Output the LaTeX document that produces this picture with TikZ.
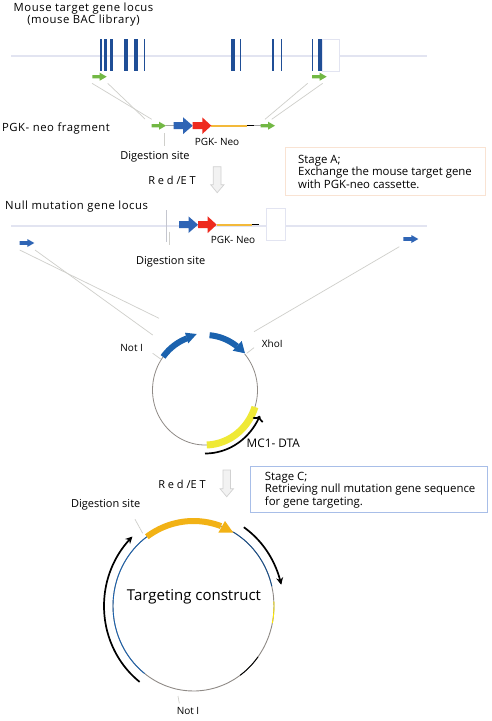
\documentclass[tikz,border=0pt]{standalone}
\usepackage{fontspec}
\setmainfont{Open Sans}
\newfontfamily\spaced[LetterSpace=5]{Open Sans}
\definecolor{exon}{HTML}{1F4E96}
\definecolor{locus}{HTML}{E2E4F1}
\definecolor{guide}{HTML}{CFCFCB}
\definecolor{gfp}{HTML}{72B844}
\definecolor{pgk}{HTML}{2F65B5}
\definecolor{neo}{HTML}{EE2A1E}
\definecolor{orangeline}{HTML}{F3B93A}
\definecolor{ringgray}{HTML}{8F8A86}
\definecolor{ringblue}{HTML}{1B62AE}
\definecolor{yel}{HTML}{EFE936}
\definecolor{amber}{HTML}{F2B215}
\definecolor{peach}{HTML}{F9E3D3}
\definecolor{paleblue}{HTML}{A8BEE8}
\usetikzlibrary{arrows.meta}
\tikzset{
 guideline/.style={draw=guide,line width=0.7pt},
 locusline/.style={draw=locus,line width=1.6pt},
 label/.style={inner sep=0pt,font=\fontsize{11}{11}\selectfont,align=left},
 stagelabel/.style={inner sep=0pt,font=\fontsize{11.4}{11}\selectfont,align=left},
 widelabel/.style={inner sep=0pt,font=\spaced\fontsize{11.3}{11}\selectfont,align=left},
 smalllabel/.style={inner sep=0pt,font=\fontsize{10}{11}\selectfont},
 stagebox/.style={line width=1pt,fill=white},
 whitebox/.style={draw=locus,line width=0.9pt,fill=white},
 downarrow/.style={draw=black!18,fill=black!5,line width=0.7pt},
 blackarc/.style={draw=black,line width=1.7pt,-{Stealth[length=7pt,width=7pt]}},
}
% colour, x1, x2, y, half shaft, half head, head length
\newcommand{\harrow}[7]{\fill[#1] (#2,#4-#5) -- (#3-#7,#4-#5) -- (#3-#7,#4-#6) -- (#3,#4) -- (#3-#7,#4+#6) -- (#3-#7,#4+#5) -- (#2,#4+#5) -- cycle;}
% style, cx, cy, rx, ry, from, to
\newcommand{\ringarc}[7]{\draw[#1] plot[domain=#6:#7,samples=50,smooth] ({#2+#4*cos(\x)},{#3+#5*sin(\x)});}
\newcommand{\exonat}[2]{\fill[exon] (#1,38.7) rectangle (#2,71);}
\begin{document}
\begin{tikzpicture}[x=1pt,y=-1pt]
\useasboundingbox (0,0) rectangle (491,721);
\fill[white] (0,0) rectangle (491,721);
% --- top locus
\coordinate (l1a) at (11,55.7); \coordinate (l1b) at (427,55.7);
\draw[locusline] (l1a) -- (l1b);
\exonat{99.7}{102.3}\exonat{104.3}{107.3}\exonat{110.3}{113.3}\exonat{124.3}{128.3}
\exonat{134.3}{135.7}\exonat{136.3}{138}\exonat{143.7}{145.3}\exonat{231}{235}
\exonat{239.7}{241.3}\exonat{272.3}{274}\exonat{280.7}{282.3}\exonat{311.7}{313.3}
\node[whitebox,minimum width=17pt,minimum height=32pt,inner sep=0pt] (endbox1) at (331,55) {};
\exonat{318.3}{322.3}
\harrow{gfp}{92.3}{106.7}{76.7}{1.6}{4}{7}
\harrow{gfp}{312}{326.7}{76.7}{1.6}{4}{7}
\coordinate (g1) at (92,83.3); \coordinate (g1e) at (151.7,119.3);
\coordinate (g2) at (107.7,83.3); \coordinate (g2e) at (145,119);
\coordinate (g3) at (307.7,83.3); \coordinate (g3e) at (265,119.3);
\coordinate (g4) at (322.7,83.3); \coordinate (g4e) at (271.7,119.3);
\draw[guideline] (g1) -- (g1e); \draw[guideline] (g2) -- (g2e);
\draw[guideline] (g3) -- (g3e); \draw[guideline] (g4) -- (g4e);
\node[widelabel,align=center] (t1) at (83.5,14.5) {Mouse target gene locus\\(mouse BAC library)};
% --- PGK-neo fragment
\coordinate (f1) at (166,125.7); \coordinate (f2) at (174,125.7);
\coordinate (f3) at (211,125.7); \coordinate (f4) at (247.3,125.7);
\coordinate (f5) at (254,125.7); \coordinate (f6) at (261,125.7);
\draw[draw=black!35,line width=1pt] (f1) -- (f2);
\draw[draw=orangeline,line width=1.6pt] (f3) -- (f4);
\draw[draw=black,line width=1.4pt] (f4) -- (f5);
\draw[draw=black!35,line width=1pt] (f5) -- (f6);
\harrow{gfp}{151.7}{166}{125.7}{1.6}{4}{7}
\harrow{gfp}{260.7}{275}{125.7}{1.6}{4}{7}
\harrow{pgk}{173.7}{192.7}{125.7}{3.5}{8.3}{9.5}
\harrow{neo}{192.7}{211.3}{125.7}{3.5}{8.3}{9}
\coordinate (d1) at (164.7,133); \coordinate (d2) at (164.7,146);
\draw[guideline] (d1) -- (d2);
\node[widelabel] (t2) at (56,128.5) {PGK- neo fragment};
\node[smalllabel] (t3) at (217,141.5) {PGK- Neo};
\node[label] (t4) at (155,157) {Digestion site};
\node[label] (t5) at (172,180.5) {R e d /E T};
\draw[downarrow] (213.3,166.7) -- (221,166.7) -- (221,184.7) -- (224,184.7) -- (217.2,192.7) -- (210.7,184.7) -- (213.3,184.7) -- cycle;
\node[stagebox,draw=peach,minimum width=200pt,minimum height=48pt,inner sep=0pt] (boxA) at (385.8,171) {};
\node[stagelabel,anchor=north west] (tA) at (298,155) {Stage A;\\Exchange the mouse target gene\\with PGK-neo cassette.};
% --- null locus
\node[widelabel,anchor=west] (t6) at (5,207) {Null mutation gene locus};
\coordinate (l2a) at (11,225.7); \coordinate (l2b) at (427,225.7);
\draw[locusline] (l2a) -- (l2b);
\coordinate (n1) at (166.3,210); \coordinate (n2) at (166.3,241.7);
\coordinate (n3) at (169.7,231.7); \coordinate (n4) at (169.7,245);
\draw[locus!70!gray,line width=0.7pt] (n1) -- (n2); \draw[guideline] (n3) -- (n4);
\coordinate (n5) at (216.7,224.7); \coordinate (n6) at (252.3,224.7); \coordinate (n7) at (259,224.7);
\draw[draw=orangeline,line width=1.6pt] (n5) -- (n6);
\draw[draw=black,line width=1.4pt] (n6) -- (n7);
\harrow{pgk}{179}{198}{224.7}{3.5}{8.3}{9.5}
\harrow{neo}{198}{216.7}{224.7}{3.5}{8.3}{9}
\node[whitebox,minimum width=19pt,minimum height=31.6pt,inner sep=0pt] (endbox2) at (276.2,224.5) {};
\node[smalllabel] (t7) at (233,239.7) {PGK- Neo};
\node[label] (t8) at (170.7,262) {Digestion site};
\harrow{pgk}{19.7}{34.3}{243}{1.8}{4}{7}
\harrow{pgk}{403.3}{418.3}{239}{1.8}{4}{7}
\coordinate (h1) at (19.7,250); \coordinate (h1e) at (159,318.3);
\coordinate (h2) at (35,250); \coordinate (h2e) at (152.7,335);
\coordinate (h3) at (399.3,246.7); \coordinate (h3e) at (254,331.7);
\draw[guideline] (h1) -- (h1e); \draw[guideline] (h2) -- (h2e); \draw[guideline] (h3) -- (h3e);
% --- first plasmid
\ringarc{draw=ringgray,line width=0.8pt}{205}{390}{52.5}{55}{20}{217}
\ringarc{draw=ringgray,line width=0.8pt}{205}{390}{52.5}{55}{-41}{20}
\ringarc{draw=ringblue,line width=6pt}{205}{390}{52.5}{55}{217}{250}
\fill[ringblue] (185,332.7) -- (196.7,334) -- (188.3,343.3) -- cycle;
\ringarc{draw=ringblue,line width=6pt}{205}{390}{52.5}{55}{275}{307.5}
\fill[ringblue] (241.7,341) -- (245,353.3) -- (232.7,350.7) -- cycle;
\ringarc{draw=yel,line width=7pt}{205}{390}{52.5}{55}{18}{88}
\ringarc{blackarc,<-}{205}{390}{60}{63.5}{24}{90}
\coordinate (a1) at (152.7,353.3); \coordinate (a2) at (160.7,359);
\coordinate (a3) at (246.7,353.3); \coordinate (a4) at (254,347.7);
\draw[guideline] (a1) -- (a2); \draw[guideline] (a3) -- (a4);
\node[smalllabel] (t9) at (131.7,348.3) {Not I};
\node[smalllabel] (t10) at (272.3,343.3) {XhoI};
\node[inner sep=0pt,font=\fontsize{11.8}{12}\selectfont] (t11) at (273.3,443.3) {MC1- DTA};
% --- stage C
\node[label] (t12) at (182,484) {R e d /E T};
\draw[downarrow] (223,470) -- (230.5,470) -- (230.5,488.7) -- (233.5,488.7) -- (226.7,496.7) -- (220,488.7) -- (223,488.7) -- cycle;
\node[stagebox,draw=paleblue,minimum width=237.4pt,minimum height=46pt,inner sep=0pt] (boxC) at (369,489.7) {};
\node[stagelabel,anchor=north west] (tC) at (264.7,472) {Stage C;\\Retrieving null mutation gene sequence\\for gene targeting.};
\node[label] (t13) at (105.7,504.3) {Digestion site};
\coordinate (b1) at (135,519.3); \coordinate (b2) at (142.7,533.3);
\draw[guideline] (b1) -- (b2);
% --- targeting construct
\ringarc{draw=ringgray,line width=0.9pt}{193.5}{606}{80.5}{85}{0}{360}
\ringarc{draw=ringblue,line width=0.9pt}{193.5}{606}{80.5}{85}{127.4}{234.6}
\ringarc{draw=ringblue!80!black,line width=0.9pt}{193.5}{606}{80.5}{85}{-60.3}{-13.4}
\ringarc{draw=black,line width=0.9pt}{193.5}{606}{80.5}{85}{36.7}{54.6}
\ringarc{draw=yellow!90!orange,line width=0.9pt}{193.5}{606}{80.5}{85}{-3}{11.6}
\ringarc{draw=amber,line width=6pt}{193.5}{606}{80.5}{85}{234.6}{290}
\fill[amber] (225,521) -- (233.3,532.7) -- (218.3,532.7) -- cycle;
\ringarc{blackarc}{193.5}{606}{90}{95}{-56}{-13}
\ringarc{blackarc}{193.5}{606}{89.5}{95}{127}{227}
\node[inner sep=0pt,font=\fontsize{15}{15}\selectfont] (t14) at (194,596.7) {Targeting construct};
\coordinate (c1) at (178,696); \coordinate (c2) at (179.3,703.3);
\draw[guideline] (c1) -- (c2);
\node[smalllabel] (t15) at (188,711) {Not I};
\end{tikzpicture}
\end{document}
